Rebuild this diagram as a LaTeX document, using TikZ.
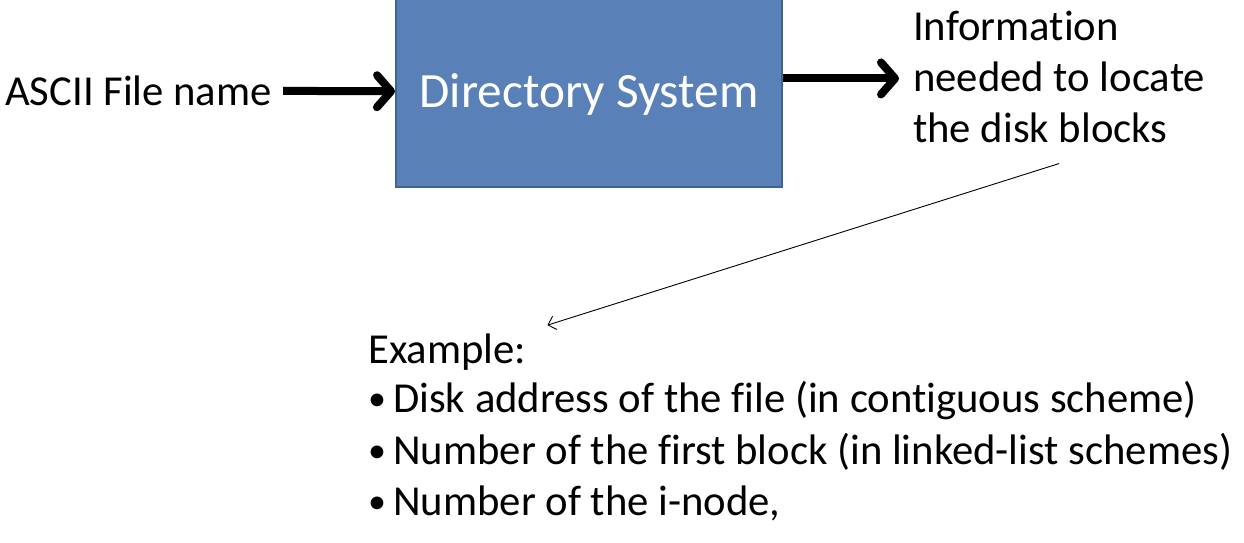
\documentclass[tikz,border=0pt]{standalone}
\usepackage{fontspec}
\setmainfont{Carlito}[Ligatures=NoCommon]
\usetikzlibrary{positioning, arrows.meta, calc}

\definecolor{boxblue}{RGB}{89,129,184}
\definecolor{boxline}{RGB}{64,99,148}
\newcommand{\bul}{\makebox[25pt][l]{\raisebox{2pt}{\fontsize{36}{36}\selectfont\textbullet}}}

\begin{document}
\begin{tikzpicture}[x=1pt,y=1pt,yscale=-1,xscale=1,
    txt/.style={font=\fontsize{42.7}{51}\selectfont, inner sep=0pt},
    fat/.style={line width=8pt, -{Straight Barb[length=14pt,width=32pt,line cap=round,line join=round]}},
    thin/.style={line width=0.9pt, -{Straight Barb[length=7pt,width=14pt]}}]
    \clip (0,0) rectangle (1244,542);

    %Shape: Box
    \node (dir) at (589,92) [draw=boxline, fill=boxblue, line width=2pt, minimum width=386pt, minimum height=190pt, text=white, text height=30pt, text depth=0pt, font=\fontsize{49.3}{58}\selectfont] {Directory System};

    % Text Node
    \node (asc) at (5,105) [txt, anchor=base west] {ASCII File name};
    % Text Node
    \node (info) at (913,142) [txt, anchor=base west, align=left] {Information\\needed to locate\\the disk blocks};

    % Text Node
    \node (ex) at (368,363) [txt, anchor=base west] {Example:};
    \node (disk) at (368,412) [txt, anchor=base west] {\bul Disk address of the file (in contiguous scheme)};
    \node (first) at (368,464) [txt, anchor=base west] {\bul Number of the first block (in linked-list schemes)};
    \node (inode) at (368,515) [txt, anchor=base west] {\bul Number of the i-node,};

    %Straight Lines
    \draw [fat, shorten <=11pt] (asc) -- (dir);
    \draw [fat, shorten >=14pt] ([yshift=2pt]dir.east |- info.west) -- ([yshift=2pt]info.west);
    \draw [thin] ($(info.south)+(0,21)$) -- ($(ex.north east)+(21,-8)$);
\end{tikzpicture}
\end{document}
